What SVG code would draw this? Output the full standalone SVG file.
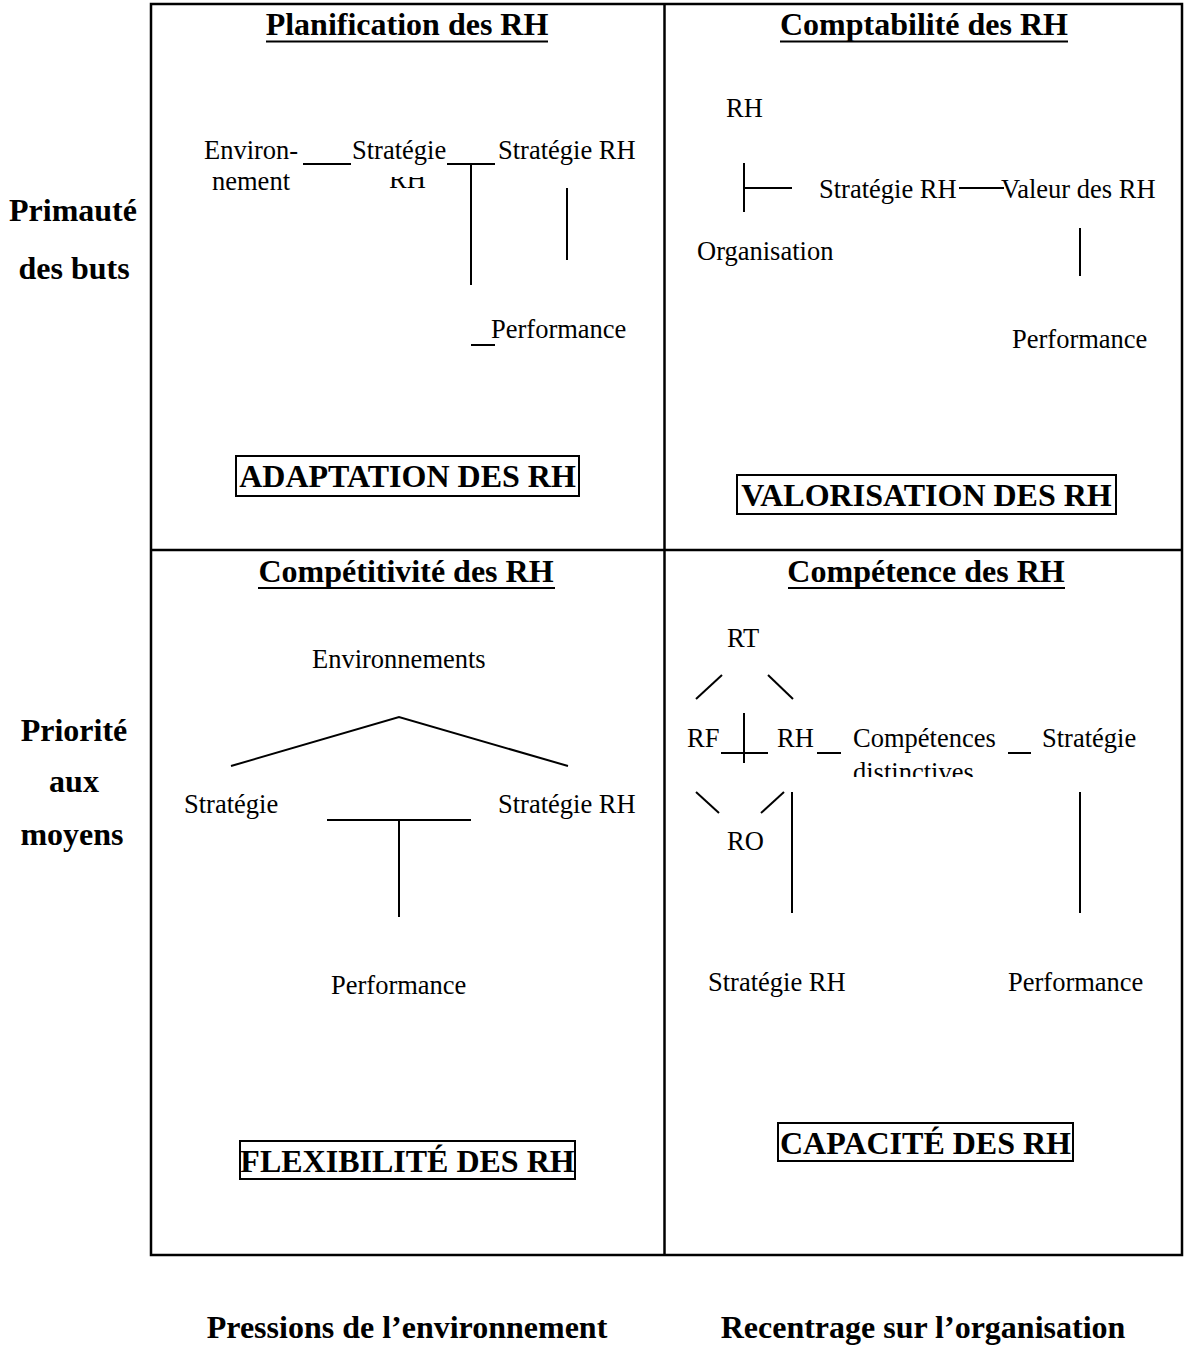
<svg xmlns="http://www.w3.org/2000/svg" width="1184" height="1348" viewBox="0 0 1184 1348">
<style>
.t{font-family:"Liberation Serif","Times New Roman",serif;font-size:26.5px;fill:#000}
.b{font-family:"Liberation Serif","Times New Roman",serif;font-size:32px;font-weight:bold;fill:#000}
.ln{stroke:#000;stroke-width:2;fill:none}
.frame{stroke:#000;stroke-width:2.5;fill:none}
.box{stroke:#000;stroke-width:2;fill:#fff}
</style>
<defs>
<clipPath id="clipRH"><rect x="380" y="177" width="60" height="30"/></clipPath>
<clipPath id="clipDist"><rect x="845" y="755" width="160" height="22"/></clipPath>
</defs>
<rect width="1184" height="1348" fill="#fff"/>

<g id="grid">
<rect class="frame" x="151" y="4" width="1031" height="1251"/>
<line class="frame" x1="664.5" y1="4" x2="664.5" y2="1255"/>
<line class="frame" x1="151" y1="550" x2="1182" y2="550"/>
</g>

<g id="axis-labels">
<g id="primaute"><text class="b" x="73" y="221" text-anchor="middle">Primauté</text><text class="b" x="74" y="279" text-anchor="middle">des buts</text></g>
<g id="priorite"><text class="b" x="74" y="741" text-anchor="middle">Priorité</text><text class="b" x="74" y="792" text-anchor="middle">aux</text><text class="b" x="72" y="845" text-anchor="middle">moyens</text></g>
<g id="pressions"><text class="b" x="407" y="1338" text-anchor="middle">Pressions de l’environnement</text></g>
<g id="recentrage"><text class="b" x="923" y="1338" text-anchor="middle">Recentrage sur l’organisation</text></g>
</g>

<g id="titles">
<g id="t-planification"><text class="b" x="407" y="35" text-anchor="middle">Planification des RH</text><line class="ln" x1="266" y1="41.5" x2="548" y2="41.5"/></g>
<g id="t-comptabilite"><text class="b" x="924" y="35" text-anchor="middle">Comptabilité des RH</text><line class="ln" x1="780" y1="41.5" x2="1068" y2="41.5"/></g>
<g id="t-competitivite"><text class="b" x="406" y="582" text-anchor="middle">Compétitivité des RH</text><line class="ln" x1="258" y1="588" x2="555" y2="588"/></g>
<g id="t-competence"><text class="b" x="926" y="582" text-anchor="middle">Compétence des RH</text><line class="ln" x1="788" y1="588" x2="1065" y2="588"/></g>
</g>

<g id="boxes">
<g id="adaptation"><rect class="box" x="236" y="456" width="343" height="40"/><text class="b" x="407.5" y="487" text-anchor="middle">ADAPTATION DES RH</text></g>
<g id="valorisation"><rect class="box" x="737" y="475" width="379" height="39"/><text class="b" x="926.5" y="506" text-anchor="middle">VALORISATION DES RH</text></g>
<g id="flexibilite"><rect class="box" x="240" y="1141" width="335" height="38"/><text class="b" x="407.5" y="1172" text-anchor="middle">FLEXIBILITÉ DES RH</text></g>
<g id="capacite"><rect class="box" x="778" y="1123" width="295" height="38"/><text class="b" x="925.5" y="1154" text-anchor="middle">CAPACITÉ DES RH</text></g>
</g>

<g id="connectors">
<line class="ln" x1="303" y1="164" x2="351" y2="164"/>
<line class="ln" x1="447" y1="164" x2="495" y2="164"/>
<line class="ln" x1="471" y1="164" x2="471" y2="285"/>
<line class="ln" x1="567" y1="188" x2="567" y2="260"/>
<line class="ln" x1="471" y1="345" x2="495" y2="345"/>
<line class="ln" x1="744" y1="163" x2="744" y2="212"/>
<line class="ln" x1="744" y1="188" x2="792" y2="188"/>
<line class="ln" x1="959" y1="188" x2="1004" y2="188"/>
<line class="ln" x1="1080" y1="228" x2="1080" y2="276"/>
<polyline class="ln" points="231,766 399,717 568,766"/>
<line class="ln" x1="327" y1="820" x2="471" y2="820"/>
<line class="ln" x1="399" y1="820" x2="399" y2="917"/>
<line class="ln" x1="696" y1="699" x2="722" y2="675"/>
<line class="ln" x1="768" y1="675" x2="793" y2="699"/>
<line class="ln" x1="721" y1="753" x2="768" y2="753"/>
<line class="ln" x1="744" y1="713" x2="744" y2="763"/>
<line class="ln" x1="817" y1="753" x2="841" y2="753"/>
<line class="ln" x1="1008" y1="753" x2="1031" y2="753"/>
<line class="ln" x1="696" y1="792" x2="719" y2="813"/>
<line class="ln" x1="761" y1="813" x2="784" y2="792"/>
<line class="ln" x1="792" y1="792" x2="792" y2="913"/>
<line class="ln" x1="1080" y1="792" x2="1080" y2="913"/>
</g>

<g id="q1-nodes">
<g id="q1-environnement"><text class="t" x="204" y="159">Environ-</text><text class="t" x="212" y="190">nement</text></g>
<g id="q1-strategie"><text class="t" x="352" y="159">Stratégie</text><text class="t" x="389" y="188" clip-path="url(#clipRH)">RH</text></g>
<g id="q1-strategie-rh"><text class="t" x="498" y="159">Stratégie RH</text></g>
<g id="q1-performance"><text class="t" x="491" y="338">Performance</text></g>
</g>

<g id="q2-nodes">
<g id="q2-rh"><text class="t" x="726" y="117">RH</text></g>
<g id="q2-strategie-rh"><text class="t" x="819" y="198">Stratégie RH</text></g>
<g id="q2-valeur"><text class="t" x="1001" y="198">Valeur des RH</text></g>
<g id="q2-organisation"><text class="t" x="697" y="260">Organisation</text></g>
<g id="q2-performance"><text class="t" x="1012" y="348">Performance</text></g>
</g>

<g id="q3-nodes">
<g id="q3-environnements"><text class="t" x="312" y="668">Environnements</text></g>
<g id="q3-strategie"><text class="t" x="184" y="813">Stratégie</text></g>
<g id="q3-strategie-rh"><text class="t" x="498" y="813">Stratégie RH</text></g>
<g id="q3-performance"><text class="t" x="331" y="994">Performance</text></g>
</g>

<g id="q4-nodes">
<g id="q4-rt"><text class="t" x="727" y="647">RT</text></g>
<g id="q4-rf"><text class="t" x="687" y="747">RF</text></g>
<g id="q4-rh"><text class="t" x="777" y="747">RH</text></g>
<g id="q4-competences"><text class="t" x="853" y="747">Compétences</text><text class="t" x="853" y="781" clip-path="url(#clipDist)">distinctives</text></g>
<g id="q4-strategie"><text class="t" x="1042" y="747">Stratégie</text></g>
<g id="q4-ro"><text class="t" x="727" y="850">RO</text></g>
<g id="q4-strategie-rh"><text class="t" x="708" y="991">Stratégie RH</text></g>
<g id="q4-performance"><text class="t" x="1008" y="991">Performance</text></g>
</g>
</svg>
